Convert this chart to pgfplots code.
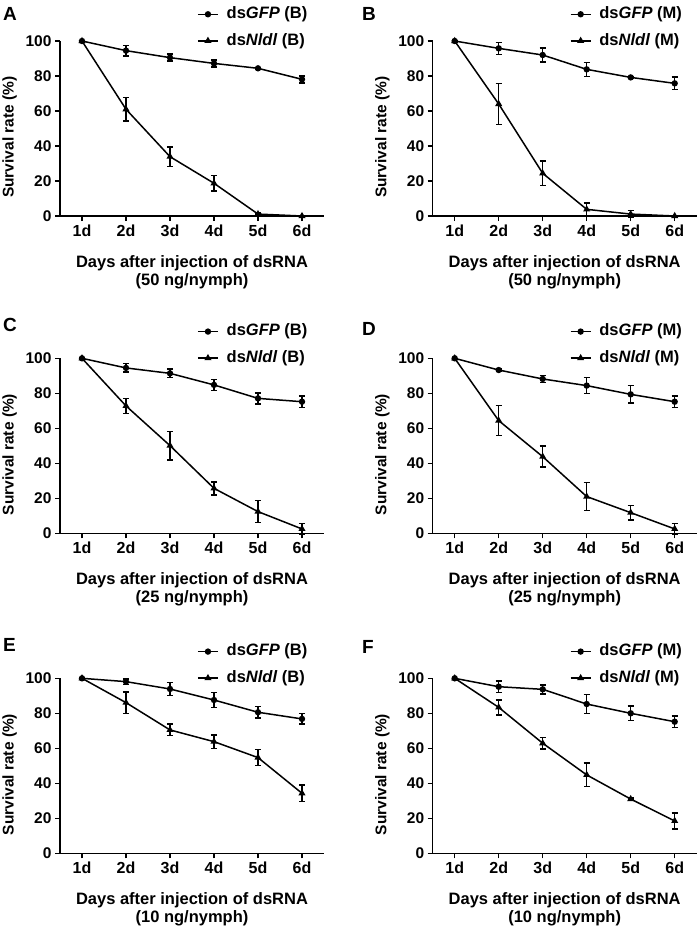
\documentclass[border=0pt]{standalone}
\usepackage{fontspec}
\setmainfont{Liberation Sans}
\usepackage{pgfplots}
\pgfplotsset{compat=1.18}

\pgfplotsset{
 panel/.style={
  scale only axis, width=264pt, height=175pt,
  xmin=0.5, xmax=6.5, ymin=0, ymax=100,
  axis x line*=bottom, axis y line*=left,
  axis line style={line width=1.5pt, black},
  xtick={1,...,6}, xticklabels={1d,2d,3d,4d,5d,6d},
  ytick={0,20,...,100},
  tick align=outside, major tick length=5pt,
  tick style={line width=1.5pt, black},
  xticklabel style={font=\fontsize{16}{16}\selectfont\bfseries},
  yticklabel style={font=\fontsize{15.5}{15.5}\selectfont\bfseries},
  /pgf/number format/assume math mode=true,
  ylabel={Survival rate (\%)},
  every axis y label/.style={at={(axis description cs:-0.191,0.45)}, rotate=90, anchor=center, font=\fontsize{15.5}{15.5}\selectfont\bfseries},
  every axis x label/.style={at={(axis description cs:0.5,-0.225)}, anchor=north, align=center, inner sep=0pt, font=\fontsize{16.5}{18}\selectfont\bfseries},
  legend style={at={(axis description cs:0.519,1.077)}, anchor=west, draw=none, fill=none, inner sep=0pt, row sep=11pt,
     font=\fontsize{16.5}{16.5}\selectfont\bfseries, nodes={inner sep=0pt, text height=12pt, text depth=3.5pt}},
  legend cell align=left,
  legend image code/.code={\draw[mark repeat=2,mark phase=2,##1] plot coordinates {(0pt,0pt) (10pt,0pt) (20pt,0pt)}; \path (28pt,0pt);},
  clip=false,
 },
 gfp/.style={black, line width=1.5pt, mark=*, mark size=2.4pt, mark options={solid},
   error bars/.cd, y dir=both, y explicit, error bar style={line width=1.5pt}, error mark options={rotate=90, mark size=3pt, line width=1.5pt}},
 nld/.style={black, line width=1.5pt, mark=triangle*, mark size=2.6pt, mark options={solid},
   error bars/.cd, y dir=both, y explicit, error bar style={line width=1.5pt}, error mark options={rotate=90, mark size=3pt, line width=1.5pt}},
}

\begin{document}
\begin{tikzpicture}
\useasboundingbox (0pt,0pt) rectangle (699pt,-929pt);

% A
\begin{axis}[panel, at={(60pt,-216pt)}, anchor=south west,
  xlabel={Days after injection of dsRNA\\(50 ng/nymph)}]
\addplot[gfp] coordinates {(1,100) +- (0,0) (2,94.5) +- (0,3) (3,90.5) +- (0,2) (4,87.2) +- (0,2) (5,84.4) +- (0,0.6) (6,78.1) +- (0,2)};
\addlegendentry{ds\textit{GFP} (B)}
\addplot[nld] coordinates {(1,100) +- (0,0) (2,61) +- (0,6.7) (3,33.9) +- (0,5.5) (4,18.7) +- (0,4.4) (5,1.1) +- (0,0.5) (6,0) +- (0,0)};
\addlegendentry{ds\textit{Nldl} (B)}
\end{axis}

% B
\begin{axis}[panel, at={(432.7pt,-216pt)}, anchor=south west,
  xlabel={Days after injection of dsRNA\\(50 ng/nymph)}]
\addplot[gfp] coordinates {(1,100) +- (0,0) (2,95.8) +- (0,3.4) (3,92) +- (0,4) (4,83.8) +- (0,4) (5,79.2) +- (0,0.6) (6,75.8) +- (0,3.6)};
\addlegendentry{ds\textit{GFP} (M)}
\addplot[nld] coordinates {(1,100) +- (0,0) (2,64) +- (0,11.7) (3,24.4) +- (0,7.1) (4,3.8) +- (0,3.6) (5,1.1) +- (0,2) (6,0) +- (0,0)};
\addlegendentry{ds\textit{Nldl} (M)}
\end{axis}

% C
\begin{axis}[panel, at={(60pt,-533.3pt)}, anchor=south west,
  xlabel={Days after injection of dsRNA\\(25 ng/nymph)}]
\addplot[gfp] coordinates {(1,100) +- (0,0) (2,94.5) +- (0,2.4) (3,91.4) +- (0,2.4) (4,84.8) +- (0,3.2) (5,77.1) +- (0,3.2) (6,75.2) +- (0,3.2)};
\addlegendentry{ds\textit{GFP} (B)}
\addplot[nld] coordinates {(1,100) +- (0,0) (2,72.8) +- (0,4.3) (3,50.1) +- (0,8.1) (4,25.7) +- (0,3.7) (5,12.4) +- (0,6.3) (6,2.5) +- (0,3)};
\addlegendentry{ds\textit{Nldl} (B)}
\end{axis}

% D
\begin{axis}[panel, at={(432.7pt,-533.3pt)}, anchor=south west,
  xlabel={Days after injection of dsRNA\\(25 ng/nymph)}]
\addplot[gfp] coordinates {(1,100) +- (0,0) (2,93.3) +- (0,0.6) (3,88.2) +- (0,2) (4,84.4) +- (0,4.5) (5,79.4) +- (0,5) (6,75.2) +- (0,3.2)};
\addlegendentry{ds\textit{GFP} (M)}
\addplot[nld] coordinates {(1,100) +- (0,0) (2,64.4) +- (0,8.6) (3,43.8) +- (0,6) (4,21) +- (0,8.1) (5,11.8) +- (0,4.1) (6,2.5) +- (0,3)};
\addlegendentry{ds\textit{Nldl} (M)}
\end{axis}

% E
\begin{axis}[panel, at={(60pt,-853.3pt)}, anchor=south west,
  xlabel={Days after injection of dsRNA\\(10 ng/nymph)}]
\addplot[gfp] coordinates {(1,100) +- (0,0) (2,98.1) +- (0,1.5) (3,93.9) +- (0,3.7) (4,87.6) +- (0,4.2) (5,80.6) +- (0,3.3) (6,76.8) +- (0,3)};
\addlegendentry{ds\textit{GFP} (B)}
\addplot[nld] coordinates {(1,100) +- (0,0) (2,86.1) +- (0,6.2) (3,70.5) +- (0,3.3) (4,63.8) +- (0,3.8) (5,54.7) +- (0,4.5) (6,34.3) +- (0,4.6)};
\addlegendentry{ds\textit{Nldl} (B)}
\end{axis}

% F
\begin{axis}[panel, at={(432.7pt,-853.3pt)}, anchor=south west,
  xlabel={Days after injection of dsRNA\\(10 ng/nymph)}]
\addplot[gfp] coordinates {(1,100) +- (0,0) (2,95.2) +- (0,3.4) (3,93.7) +- (0,2.6) (4,85.3) +- (0,5.4) (5,80) +- (0,4.2) (6,75.2) +- (0,3.2)};
\addlegendentry{ds\textit{GFP} (M)}
\addplot[nld] coordinates {(1,100) +- (0,0) (2,83.4) +- (0,4.3) (3,62.9) +- (0,3.4) (4,44.8) +- (0,6.7) (5,31) +- (0,0.6) (6,18.5) +- (0,4.5)};
\addlegendentry{ds\textit{Nldl} (M)}
\end{axis}

\begin{scope}[every node/.style={anchor=north west, inner sep=0pt, font=\fontsize{19}{19}\selectfont\bfseries}]
\node at (3pt,-7pt) {A};
\node at (362pt,-7pt) {B};
\node at (3pt,-318pt) {C};
\node at (362pt,-322pt) {D};
\node at (3pt,-638pt) {E};
\node at (362pt,-640pt) {F};
\end{scope}
\end{tikzpicture}
\end{document}
